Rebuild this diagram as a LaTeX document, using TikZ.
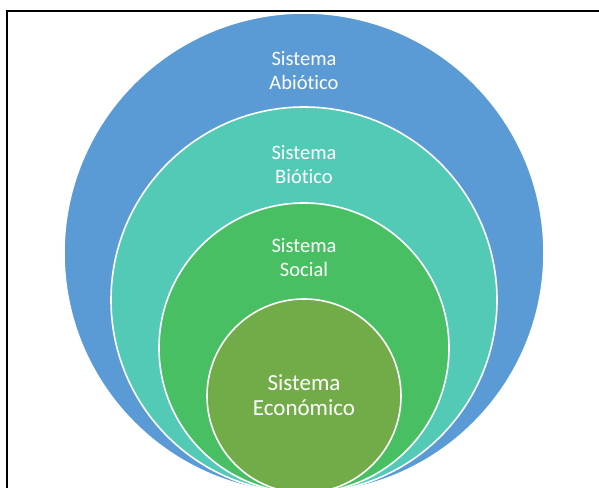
\documentclass[tikz,border=0pt]{standalone}
\usepackage{fontspec}
\setmainfont{Carlito}[Ligatures=CommonOff]
\usepackage{tikz}

\definecolor{abioblue}{HTML}{5B9BD5}
\definecolor{bioteal}{HTML}{53CAB6}
\definecolor{socgreen}{HTML}{49BF63}
\definecolor{ecogreen}{HTML}{71AC48}

\tikzset{
  ring/.style={circle, draw=white, line width=1.6pt, inner sep=0pt, minimum size=#1},
  ringtext/.style={text=white, align=center, font=\fontsize{20.5}{24}\selectfont},
  ecotext/.style={text=white, align=center, font=\fontsize{23}{25.5}\selectfont}
}

\begin{document}
\begin{tikzpicture}[x=1pt,y=1pt]

\useasboundingbox (0,0) rectangle (599,487);
\clip (0,0) rectangle (599,487);

% frame, cut at right and bottom
\draw[line width=2pt] (7,-20) |- (620,476);

% nested systems, all touching at the bottom
\node[ring=480pt, fill=abioblue] (abio) at (304,234) {};
\node[ring=386pt, fill=bioteal] (bio) at (304,187) {};
\node[ring=290pt, fill=socgreen] (soc) at (304,139) {};
\node[ring=194pt, fill=ecogreen] (eco) at (304,91) {};

\node[ringtext] (abiotxt) at ([yshift=-58pt]abio.north) {Sistema\\Abiótico};
\node[ringtext] (biotxt) at ([yshift=-58pt]bio.north) {Sistema\\Biótico};
\node[ringtext] (soctxt) at ([yshift=-55pt]soc.north) {Sistema\\Social};
\node[ecotext] (ecotxt) at ([yshift=1pt]eco.center) {Sistema\\Económico};

\end{tikzpicture}
\end{document}
